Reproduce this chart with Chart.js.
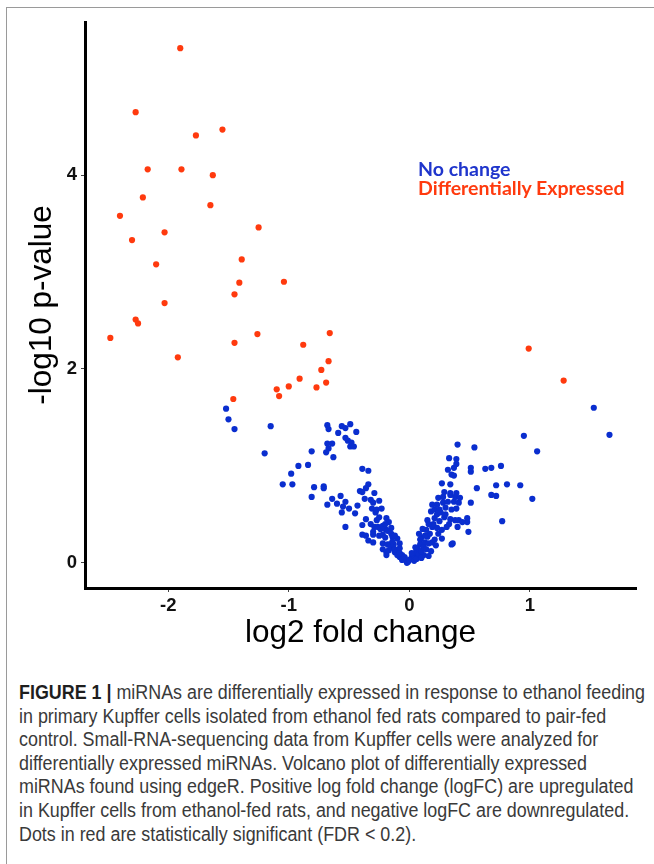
<!DOCTYPE html>
<html><head><meta charset="utf-8">
<script src="https://cdn.jsdelivr.net/npm/chart.js@4/dist/chart.umd.min.js"></script>
<style>
html,body{margin:0;padding:0;background:#fff;width:654px;height:864px;overflow:hidden;}
#frameTop{position:absolute;left:6px;top:7px;width:648px;height:0;border-top:1.5px solid #9a9a9a;}
#frameLeft{position:absolute;left:6px;top:7px;width:0;height:857px;border-left:1.5px solid #9a9a9a;}
#wrap{position:absolute;left:0;top:0;width:654px;height:670px;}
.leg{position:absolute;left:418px;font-family:Lato,'Open Sans',sans-serif;font-weight:700;font-size:18px;white-space:nowrap;transform-origin:0 50%;line-height:18px;}
#caption{position:absolute;left:19px;top:681px;font-family:'Liberation Sans Narrow','Liberation Sans',Arial,sans-serif;font-size:20px;color:#3a3a3a;}
.cl{white-space:nowrap;height:23.6px;line-height:23.6px;transform-origin:0 50%;}
.cl b{color:#1e1e1e;}
</style></head>
<body>
<div id="frameTop"></div><div id="frameLeft"></div>
<div id="wrap"><canvas id="c" width="654" height="670"></canvas></div>
<div class="leg" id="leg1" style="top:160px;color:#1f35cc;">No change</div>
<div class="leg" id="leg2" style="top:179px;color:#ff3a0e;">Differentially Expressed</div>
<div id="caption">
<div class="cl" id="cl1"><b>FIGURE 1 |</b> miRNAs are differentially expressed in response to ethanol feeding</div>
<div class="cl">in primary Kupffer cells isolated from ethanol fed rats compared to pair-fed</div>
<div class="cl">control. Small-RNA-sequencing data from Kupffer cells were analyzed for</div>
<div class="cl">differentially expressed miRNAs. Volcano plot of differentially expressed</div>
<div class="cl">miRNAs found using edgeR. Positive log fold change (logFC) are upregulated</div>
<div class="cl">in Kupffer cells from ethanol-fed rats, and negative logFC are downregulated.</div>
<div class="cl">Dots in red are statistically significant (FDR &lt; 0.2).</div>
</div>
<script>
const xTicks = [-2, -1, 0, 1];
const yTicks = [0, 2, 4];
const xTitle = 'log2 fold change';
const yTitle = '-log10 p-value';

const redX = [-1.90,-2.27,-1.77,-1.55,-2.17,-1.89,-1.63,-2.21,-1.65,-2.40,-1.25,-2.03,-2.30,-1.39,-2.10,-1.41,-1.04,-1.45,-2.03,-2.27,-2.25,-2.48,-1.26,-0.66,-1.45,-0.88,-1.92,-0.67,-0.73,-0.91,-0.69,-1.00,-0.77,-1.10,-1.08,-1.46,0.99,1.28];
const redY = [5.31,4.65,4.41,4.47,4.06,4.06,4.00,3.77,3.69,3.58,3.46,3.41,3.33,3.13,3.08,2.89,2.90,2.77,2.68,2.51,2.47,2.32,2.36,2.37,2.27,2.25,2.12,2.08,1.99,1.90,1.86,1.82,1.81,1.79,1.72,1.69,2.21,1.88];

const blueX = [-1.52,-1.50,-1.45,-1.15,-1.20,-0.68,-0.67,-0.56,-0.53,-0.49,-0.44,-0.59,-0.53,-0.51,-0.48,-0.68,-0.64,-0.49,-0.46,-0.67,-0.69,-0.63,-0.81,-0.39,-0.34,-0.92,-0.84,-0.98,-1.05,-0.97,-0.79,-0.71,-0.71,-0.81,-0.34,-0.36,-0.41,-0.39,-0.29,-0.37,-0.32,-0.25,-0.57,-0.64,-0.53,-0.60,-0.68,-0.55,-0.50,-0.43,-0.30,-0.56,-0.45,-0.31,-0.27,-0.23,-0.36,-0.39,-0.53,-0.25,-0.19,-0.17,-0.29,-0.26,-0.24,-0.30,-0.39,-0.36,-0.30,-0.20,-0.18,-0.15,-0.22,-0.20,-0.14,-0.10,-0.34,-0.30,-0.22,-0.18,-0.14,-0.22,-0.19,-0.19,-0.10,-0.08,-0.05,-0.01,0.03,0.07,0.09,-0.16,-0.13,-0.08,-0.17,-0.12,-0.06,-0.04,-0.02,0.02,0.05,0.06,0.09,0.13,0.10,0.15,0.12,0.07,0.19,0.21,0.24,0.14,0.19,0.23,0.27,0.31,0.35,0.15,0.21,0.25,0.29,0.34,0.38,0.18,0.21,0.25,0.30,0.35,0.39,0.19,0.23,0.28,0.32,0.37,0.41,0.24,0.28,0.34,0.38,0.42,0.29,0.34,0.39,0.27,0.34,0.35,0.32,0.37,0.33,0.39,0.40,0.39,0.51,0.51,0.54,0.56,0.51,0.48,0.48,0.49,0.41,0.44,0.40,0.36,0.37,1.53,1.66,0.95,1.06,0.63,0.68,0.76,0.72,0.81,0.92,0.68,0.72,1.02,0.77,-0.12,-0.10,-0.06,0.00,0.04,0.06,0.08,0.10,0.12,0.14,0.16,-0.14,-0.08,-0.04,0.02,0.05,0.08,0.11,0.17,0.20,0.23,0.26,0.16,0.13,-0.22,-0.27,-0.20,-0.15,-0.12,-0.08,-0.25,-0.32,-0.28,0.30,0.33,0.27,0.22,0.18,0.16,0.10];
const blueY = [1.59,1.48,1.38,1.41,1.13,1.42,1.38,1.41,1.39,1.43,1.35,1.34,1.29,1.26,1.24,1.23,1.23,1.20,1.20,1.18,1.14,1.09,1.15,0.97,0.95,1.00,1.01,0.92,0.81,0.81,0.78,0.79,0.77,0.68,0.81,0.77,0.74,0.73,0.72,0.66,0.65,0.64,0.69,0.66,0.63,0.61,0.60,0.58,0.56,0.59,0.62,0.52,0.51,0.56,0.55,0.56,0.45,0.39,0.37,0.47,0.46,0.42,0.37,0.37,0.35,0.32,0.29,0.28,0.29,0.35,0.33,0.30,0.29,0.26,0.27,0.25,0.23,0.21,0.20,0.19,0.16,0.14,0.11,0.08,0.11,0.06,0.04,0.01,0.06,0.15,0.24,0.19,0.19,0.15,0.13,0.11,0.08,0.05,0.00,0.06,0.10,0.13,0.19,0.21,0.26,0.27,0.08,0.06,0.21,0.24,0.30,0.34,0.37,0.36,0.34,0.37,0.19,0.44,0.46,0.43,0.47,0.45,0.44,0.53,0.55,0.55,0.57,0.55,0.56,0.60,0.60,0.62,0.63,0.63,0.62,0.67,0.68,0.70,0.68,0.67,0.73,0.72,0.72,0.82,0.81,0.91,0.96,0.98,1.08,1.07,1.22,1.02,0.98,0.94,1.19,0.77,0.62,0.46,0.42,0.32,0.44,0.42,0.37,0.20,0.90,1.60,1.32,1.31,1.15,0.97,0.98,1.00,0.80,0.81,0.80,0.70,0.69,0.66,0.43,0.14,0.08,0.03,0.03,0.02,0.04,0.09,0.12,0.16,0.14,0.20,0.22,0.10,0.06,0.10,0.16,0.30,0.35,0.30,0.40,0.50,0.52,0.40,0.28,0.38,0.44,0.40,0.36,0.28,0.20,0.28,0.40,0.52,0.50,0.40,0.25,0.18,0.12,0.07,0.05];

const toPts = (xs, ys) => xs.map((x, i) => ({x: x, y: ys[i]}));
const tickFont = {family: "'Liberation Sans', Arial, sans-serif", size: 18.5, weight: 'bold'};
const titleFont = {family: "'Liberation Sans', Arial, sans-serif", size: 31.5, weight: 'normal'};

new Chart(document.getElementById('c'), {
  type: 'scatter',
  data: {datasets: [
    {label: 'No change', data: toPts(blueX, blueY), backgroundColor: '#0a2ecf', borderWidth: 0, pointRadius: 3.1, pointHoverRadius: 3.1},
    {label: 'Differentially Expressed', data: toPts(redX, redY), backgroundColor: '#ff3a0e', borderWidth: 0, pointRadius: 3.1, pointHoverRadius: 3.1}
  ]},
  options: {
    responsive: false, animation: false, devicePixelRatio: 1,
    layout: {padding: {top: 22, right: 18, left: 0, bottom: 0}},
    plugins: {legend: {display: false}, tooltip: {enabled: false}},
    scales: {
      x: {
        type: 'linear', min: -2.69, max: 1.88,
        afterFit(s) { s.height = 82; },
        afterBuildTicks(s) { s.ticks = xTicks.map(v => ({value: v})); },
        grid: {display: true, drawOnChartArea: false, drawTicks: true, tickLength: 4, color: '#444', lineWidth: 1},
        border: {display: true, color: '#000', width: 3},
        ticks: {font: tickFont, color: '#111', padding: 3, maxRotation: 0, autoSkip: false},
        title: {display: true, text: xTitle, font: titleFont, color: '#000', padding: {top: 0, bottom: 18}}
      },
      y: {
        type: 'linear', min: -0.26, max: 5.58,
        afterFit(s) { s.width = 85; },
        afterBuildTicks(s) { s.ticks = yTicks.map(v => ({value: v})); },
        grid: {display: true, drawOnChartArea: false, drawTicks: true, tickLength: 4, color: '#444', lineWidth: 1},
        border: {display: true, color: '#000', width: 3},
        ticks: {font: tickFont, color: '#111', padding: 4, autoSkip: false},
        title: {display: true, text: yTitle, font: titleFont, color: '#000', padding: {top: 23, bottom: 0}}
      }
    }
  }
});

function fitText() {
  const l1 = document.getElementById('cl1');
  l1.style.transform = 'none';
  const w = l1.scrollWidth;
  const k = 626 / w;
  document.querySelectorAll('.cl').forEach(el => { el.style.transform = 'scaleX(' + k + ')'; });
  const g = document.getElementById('leg2');
  g.style.transform = 'none';
  const kg = 207 / g.scrollWidth;
  document.querySelectorAll('.leg').forEach(el => { el.style.transform = 'scaleX(' + kg + ')'; });
}
fitText();
if (document.fonts && document.fonts.ready) document.fonts.ready.then(fitText);
</script>
</body></html>
